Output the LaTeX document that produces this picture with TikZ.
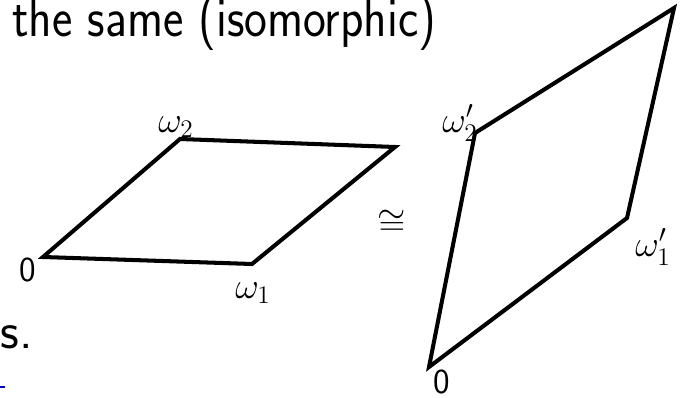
\documentclass[tikz,border=0pt]{standalone}
\usepackage{amsmath,amssymb}
\usepackage{graphicx}
\usepackage{tikz}
\usetikzlibrary{positioning}

\begin{document}
\begin{tikzpicture}[
  x=0.02cm, y=-0.02cm,
  edge/.style={line width=2.3pt, line join=miter},
  bigtext/.style={inner sep=0pt, anchor=base west,
    font=\sffamily\fontsize{29.5}{34}\selectfont},
  vlabel/.style={inner sep=0pt, font=\sffamily\fontsize{20}{24}\selectfont}
]
\useasboundingbox (0,0) rectangle (682,398);

% text of the slide
\node[bigtext] (title) at (12,37) {\scalebox{0.935}[1.08]{the same (isomorphic)}};
\node[bigtext] (tail) at (0,348) {s.};
\draw[blue!75!black, line width=1.5pt] (0,387) -- (5,387);

% first lattice
\coordinate (o) at (43,257);
\coordinate (w1) at (252,264);
\coordinate (c) at (395,147);
\coordinate (w2) at (180,139);
\draw[edge] (o) -- (w1) -- (c) -- (w2) -- cycle;

\node[vlabel] (lo) at (28,270) {0};
\node[vlabel] (lw1) at (253,293) {$\omega_1$};
\node[vlabel] (lw2) at (176,127) {$\omega_2$};

\node[vlabel] (iso) at (392,223) {$\cong$};

% second lattice
\coordinate (o') at (429,367);
\coordinate (w1') at (627,218);
\coordinate (c') at (674,8);
\coordinate (w2') at (475,133);
\draw[edge] (o') -- (w1') -- (c') -- (w2') -- cycle;

\node[vlabel] (lo') at (442,382) {0};
\node[vlabel] (lw1') at (653,247) {$\omega_1'$};
\node[vlabel] (lw2') at (460,123) {$\omega_2'$};
\end{tikzpicture}
\end{document}
